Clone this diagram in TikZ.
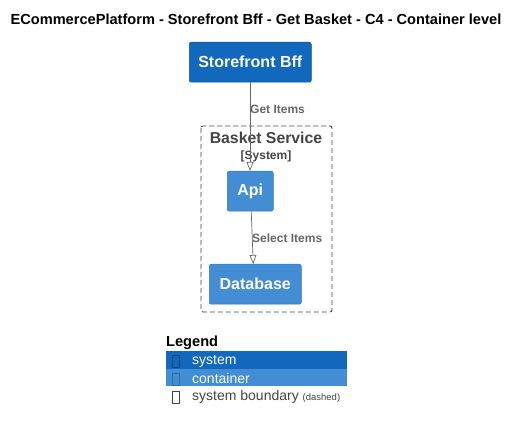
\documentclass[tikz,border=0pt]{standalone}
\usepackage{fontspec}
\setmainfont{Liberation Sans}
\usetikzlibrary{arrows.meta}
\definecolor{sysblue}{HTML}{1168BD}
\definecolor{contblue}{HTML}{438DD5}
\definecolor{lblgray}{HTML}{666666}
\definecolor{bndgray}{HTML}{444444}
\tikzset{
  sysbox/.style={draw=sysblue!80!black, line width=0.5pt, fill=sysblue, rounded corners=2pt, text=white, font=\bfseries\fontsize{16}{18}\selectfont, inner sep=0pt, anchor=north west},
  contbox/.style={draw=contblue!85!black, line width=0.5pt, fill=contblue, rounded corners=2pt, text=white, font=\bfseries\fontsize{16}{18}\selectfont, inner sep=0pt, anchor=north west},
  rel/.style={draw=lblgray, line width=0.7pt, -{Triangle[open, length=9pt, width=7pt]}},
  rellabel/.style={text=lblgray, font=\bfseries\fontsize{12}{14}\selectfont, anchor=west, inner sep=0pt},
  tofu/.style={draw=#1, line width=0.6pt, minimum width=7pt, minimum height=12pt, inner sep=0pt},
  legtext/.style={anchor=west, font=\fontsize{14}{16}\selectfont, inner sep=0pt},
}
\begin{document}
\begin{tikzpicture}[x=1pt,y=-1pt]
\useasboundingbox (0,0) rectangle (520,430);
\node[font=\bfseries\fontsize{14.6}{17}\selectfont] (title) at (256,19) {ECommercePlatform - Storefront Bff - Get Basket - C4 - Container level};
% boundary
\draw[dash pattern=on 5pt off 3pt, draw=bndgray, line width=0.9pt, rounded corners=2pt] (201,126) rectangle (332,312);
\node[text=bndgray, font=\bfseries\fontsize{15.8}{18}\selectfont] (bname) at (266,138) {Basket Service};
\node[text=bndgray, font=\bfseries\fontsize{12}{14}\selectfont] (btype) at (266,156) {[System]};
% nodes
\node[sysbox, minimum width=122pt, minimum height=40pt] (sbff) at (189,42) {Storefront Bff};
\node[contbox, minimum width=46pt, minimum height=40pt] (api) at (227,171) {Api};
\node[contbox, minimum width=92pt, minimum height=40pt] (db) at (209,264) {Database};
% relations
\draw[rel] (sbff.south -| 250,0) -- (api.north -| 250,0);
\node[rellabel] (l1) at (250,109) {Get Items};
\draw[rel] ([xshift=1pt]api.south) -- ([xshift=-2pt]db.north);
\node[rellabel] (l2) at (252,238) {Select Items};
% legend
\node[font=\bfseries\fontsize{14.6}{17}\selectfont, anchor=west, inner sep=0pt] (leg) at (166,343) {Legend};
\fill[sysblue] (166,351) rectangle (347,369);
\fill[contblue] (166,369) rectangle (347,386.5);
\node[tofu=sysblue!70!black] (t1) at (176,361) {};
\node[tofu=contblue!75!black] (t2) at (176,379) {};
\node[tofu=bndgray] (t3) at (176,397) {};
\node[legtext, text=white] (ls) at (192,361) {system};
\node[legtext, text=white] (lc) at (192,378) {container};
\node[legtext, text=bndgray] (lb) at (192,397) {system boundary {\fontsize{9.5}{11}\selectfont (dashed)}};
\end{tikzpicture}
\end{document}
